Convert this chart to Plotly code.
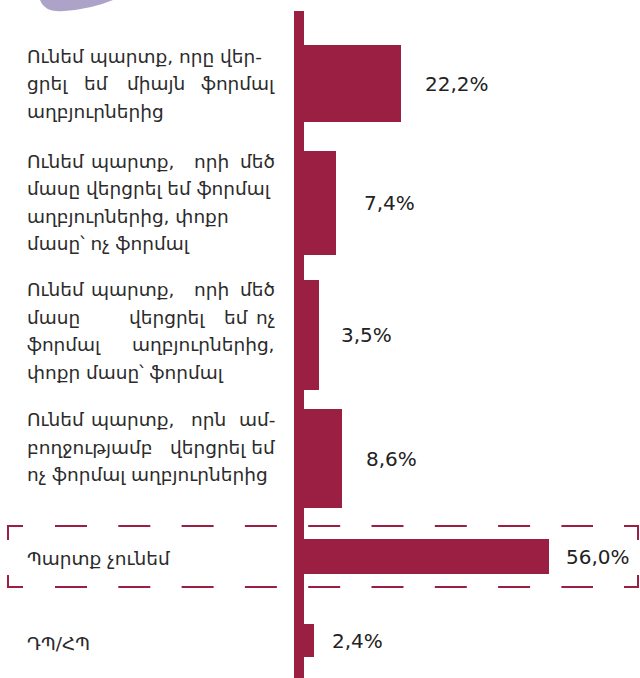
import plotly.graph_objects as go

# data
categories = [
    "Ունեմ պարտք, որը վեր-\nցրել եմ միայն ֆորմալ\nաղբյուրներից",
    "Ունեմ պարտք, որի մեծ\nմասը վերցրել եմ ֆորմալ\nաղբյուրներից, փոքր\nմասը՝ ոչ ֆորմալ",
    "Ունեմ պարտք, որի մեծ\nմասը վերցրել եմ ոչ\nֆորմալ աղբյուրներից,\nփոքր մասը՝ ֆորմալ",
    "Ունեմ պարտք, որն ամ-\nբողջությամբ վերցրել եմ\nոչ ֆորմալ աղբյուրներից",
    "Պարտք չունեմ",
    "ԴՊ/ՀՊ",
]
values = [22.2, 7.4, 3.5, 8.6, 56.0, 2.4]
value_labels = [f"{v:.1f}%".replace(".", ",") for v in values]

# layout (pixels, figure is 640x678 with no margins)
W, H = 640, 678
bar_top = [45, 151, 280, 409, 539, 624]
bar_bot = [122, 255, 390, 508, 574, 657]
text_mid = [83.5, 202.5, 331, 447, 558, 643]
line_gap = 27.5
pct_shift = [22, 26, 20, 22, 15, 16]
px_per = 4.37
axis_x = 304
text_left, text_right = 25, 277
# justified lines: centres of the middle words, and how many words stay together at the end
justify = {
    (0, 1): ([95.5, 155.5], 1),
    (1, 0): ([132.5, 211.5], 1),
    (2, 0): ([132.5, 211.5], 1),
    (2, 1): ([166.5, 236], 1),
    (2, 2): ([], 1),
    (3, 0): ([132.5, 208.5], 1),
    (3, 1): ([], 2),
}
bar_col = '#9b1f42'
txt_col = '#2b2b2b'
lab_font = dict(family='DejaVu Sans', size=18.5, color=txt_col)

centres = [(t + b) / 2 for t, b in zip(bar_top, bar_bot)]
heights = [b - t for t, b in zip(bar_top, bar_bot)]

fig = go.Figure()
fig.add_trace(go.Bar(x=values, y=centres, width=heights, orientation='h',
                     marker=dict(color=bar_col, line=dict(width=0)),
                     hoverinfo='skip'))

ann = []
for i, cat in enumerate(categories):
    lines = cat.split('\n')
    y0 = text_mid[i] - line_gap * (len(lines) - 1) / 2
    for j, line in enumerate(lines):
        y = y0 + j * line_gap
        if (i, j) in justify:
            mids, tail = justify[(i, j)]
            words = line.split(' ')
            ann.append(dict(x=text_left / W, y=y, text=words[0], xanchor='left'))
            for w, c in zip(words[1:-tail], mids):
                ann.append(dict(x=c / W, y=y, text=w, xanchor='center'))
            ann.append(dict(x=text_right / W, y=y, text=' '.join(words[-tail:]), xanchor='right'))
        else:
            ann.append(dict(x=text_left / W, y=y, text=line, xanchor='left'))
for a in ann:
    a.update(xref='paper', yref='y', yanchor='middle', showarrow=False, font=lab_font)

for i, v in enumerate(values):
    ann.append(dict(x=v, y=centres[i], xref='x', yref='y', text=value_labels[i],
                    xanchor='left', yanchor='middle', xshift=pct_shift[i], showarrow=False,
                    font=dict(family='DejaVu Sans', size=20, color='#222222')))

shapes = []
# purple blob at the top
shapes.append(dict(type='path', xref='paper', yref='paper', layer='below',
                   path='M %f,%f Q %f,%f %f,%f Q %f,%f %f,%f Z' % (
                       40 / W, 1, 45 / W, 1 - 13 / H, 64 / W, 1 - 11 / H,
                       92 / W, 1 - 9 / H, 113 / W, 1),
                   fillcolor='#ada3c9', line=dict(width=0)))
# dashed frame round "Պարտք չունեմ"
fy0, fy1 = 526, 587
for fy in (fy0, fy1):
    shapes.append(dict(type='line', xref='paper', yref='y', x0=55 / W, x1=593 / W, y0=fy, y1=fy,
                       line=dict(color=bar_col, width=2, dash='32px,31.3px')))
for path in ['M %f,%f L %f,%f L %f,%f' % (8 / W, 540, 8 / W, fy0, 23 / W, fy0),
             'M %f,%f L %f,%f L %f,%f' % (624 / W, fy0, 638 / W, fy0, 638 / W, 540),
             'M %f,%f L %f,%f L %f,%f' % (8 / W, 575, 8 / W, fy1, 23 / W, fy1),
             'M %f,%f L %f,%f L %f,%f' % (624 / W, fy1, 638 / W, fy1, 638 / W, 575)]:
    shapes.append(dict(type='path', xref='paper', yref='y', path=path,
                       line=dict(color=bar_col, width=2)))
# thick vertical axis
shapes.append(dict(type='rect', xref='paper', yref='y', x0=294 / W, x1=axis_x / W, y0=11, y1=H,
                   fillcolor=bar_col, line=dict(width=0)))

fig.update_layout(width=W, height=H, margin=dict(l=0, r=0, t=0, b=0),
                  paper_bgcolor='white', plot_bgcolor='white', showlegend=False,
                  annotations=ann, shapes=shapes, bargap=0)
fig.update_xaxes(range=[-axis_x / px_per, (W - axis_x) / px_per], visible=False, fixedrange=True)
fig.update_yaxes(range=[H, 0], visible=False, fixedrange=True)
# page body has an 8px default margin; drop it so the figure fills the window
fig.write_html("out.html", config={'displayModeBar': False},
               post_script="document.body.style.margin='0';document.body.style.overflow='hidden';")
